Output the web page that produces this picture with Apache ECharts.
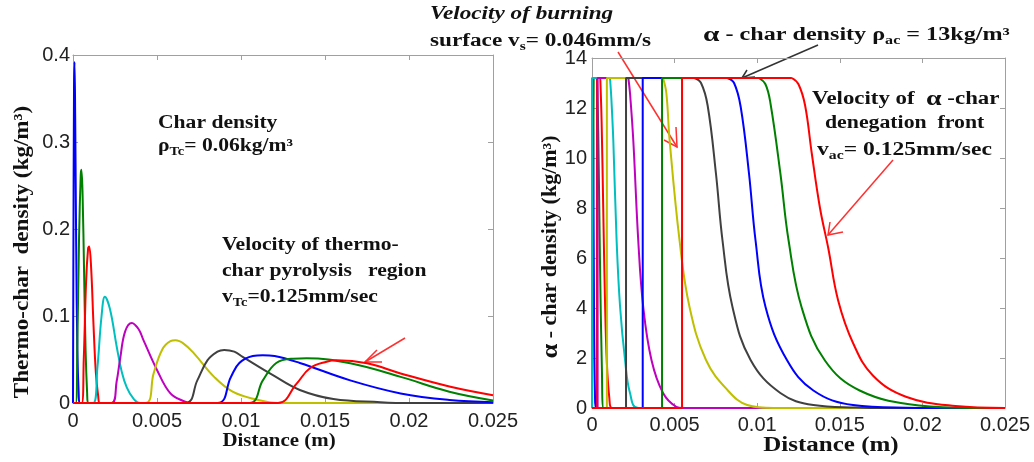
<!DOCTYPE html>
<html>
<head>
<meta charset="utf-8">
<script src="https://cdn.jsdelivr.net/npm/echarts@6/dist/echarts.min.js"></script>
<style>
  html, body { margin: 0; padding: 0; background: #ffffff; }
  #chart { width: 1034px; height: 462px; }
</style>
</head>
<body>
<div id="chart"></div>
<script>
// ---- Left panel: thermo-char density (kg/m3) against distance (m), one profile per time step ----
const thermo1 = [[0,0],[0.00002,0.15],[0.00006,0.36],[0.00009,0.392],[0.00013,0.33],[0.00019,0.18],[0.00026,0.06],[0.00034,0.01],[0.0004,0],[0.025,0]];
const thermo2 = [[0,0],[0.00016,0],[0.00026,0.07],[0.00036,0.19],[0.00046,0.262],[0.0005,0.268],[0.00057,0.24],[0.00066,0.15],[0.00075,0.06],[0.00084,0.012],[0.0009,0],[0.025,0]];
const thermo3 = [[0,0],[0.00052,0],[0.00064,0.05],[0.00078,0.14],[0.0009,0.178],[0.00096,0.18],[0.00108,0.155],[0.00122,0.09],[0.00136,0.035],[0.0015,0.008],[0.0016,0],[0.025,0]];
const thermo4 = [[0,0],[0.0012,0],[0.00145,0.04],[0.0017,0.1],[0.0019,0.122],[0.0022,0.108],[0.0026,0.065],[0.0029,0.036],[0.0032,0.018],[0.0036,0.005],[0.004,0],[0.025,0]];
const thermo5 = [[0,0],[0.0023,0],[0.0026,0.025],[0.0028,0.05],[0.0031,0.082],[0.0035,0.092],[0.0039,0.085],[0.0042,0.072],[0.005,0.038],[0.0058,0.011],[0.0066,0.002],[0.007,0],[0.025,0]];
const thermo6 = [[0,0],[0.0043,0],[0.0048,0.034],[0.0053,0.061],[0.0058,0.071],[0.0061,0.072],[0.0066,0.068],[0.0072,0.057],[0.0084,0.03],[0.0095,0.013],[0.0109,0.004],[0.0122,0],[0.025,0]];
const thermo7 = [[0,0],[0.0067,0],[0.0074,0.026],[0.008,0.049],[0.0086,0.059],[0.009,0.061],[0.0096,0.059],[0.0101,0.053],[0.0119,0.032],[0.0135,0.015],[0.0155,0.0046],[0.0183,0.001],[0.02,0],[0.025,0]];
const thermo8 = [[0,0],[0.0086,0],[0.0094,0.03],[0.0099,0.046],[0.0107,0.054],[0.0113,0.055],[0.012,0.054],[0.0135,0.046],[0.0165,0.026],[0.0195,0.011],[0.0224,0.0035],[0.025,0.001]];
const thermo9 = [[0,0],[0.0105,0],[0.0113,0.026],[0.0121,0.046],[0.0131,0.051],[0.0139,0.0515],[0.0165,0.0456],[0.0195,0.03],[0.0224,0.013],[0.025,0.003]];
const thermo10 = [[0,0],[0.0122,0],[0.0133,0.022],[0.0141,0.04],[0.0151,0.0475],[0.0157,0.049],[0.0175,0.0456],[0.0195,0.034],[0.0224,0.019],[0.025,0.009]];

// ---- Right panel: alpha-char density (kg/m3) ----
// burning-surface position for each time step (density is zero ahead of it)
const alphaSurface = [0, 0.0001, 0.0003, 0, 0.00034, 0.0009, 0.00206, 0.00307, 0.00424, 0.00545];
// plateau end and decay through the denegation front for each time step
const alpha1 = [[0.00004,13.2],[0.00008,10],[0.00012,4],[0.00018,0.5],[0.00024,0]];
const alpha2 = [[0.0003,13.2],[0.00038,11],[0.00048,6],[0.0006,1.5],[0.0007,0]];
const alpha3 = [[0.0005,13.2],[0.00058,11.5],[0.00068,8],[0.00078,4.5],[0.0009,1.8],[0.00105,0.4],[0.0012,0]];
const alpha4 = [[0.00109,13.2],[0.00117,12.4],[0.00129,10.7],[0.00149,6.7],[0.0017,4.05],[0.002,1.92],[0.0023,0.6],[0.0028,0]];
const alpha5 = [[0.0022,13.2],[0.0023,12.6],[0.0025,10.7],[0.0028,6.7],[0.0031,4.05],[0.0036,1.92],[0.0043,0.6],[0.0051,0.05],[0.0055,0]];
const alpha6 = [[0.0043,13.2],[0.0045,12.6],[0.0047,10.7],[0.0053,6.7],[0.0059,4.05],[0.0069,1.92],[0.0082,0.72],[0.0094,0.12],[0.011,0]];
const alpha7 = [[0.0062,13.2],[0.0066,13.0],[0.007,12.1],[0.0075,9.4],[0.0079,6.7],[0.0085,4.05],[0.0096,1.92],[0.0114,0.6],[0.0134,0.12],[0.016,0.02],[0.018,0]];
const alpha8 = [[0.0082,13.2],[0.0086,13.0],[0.009,12.05],[0.0095,9.4],[0.0099,6.7],[0.0105,4.05],[0.0118,1.92],[0.0134,0.7],[0.0158,0.12],[0.019,0.01],[0.021,0]];
const alpha9 = [[0.0101,13.2],[0.0105,12.95],[0.0108,12.2],[0.0114,9.4],[0.0119,6.7],[0.0127,4],[0.0141,1.9],[0.0162,0.7],[0.0198,0.1],[0.023,0]];
const alpha10 = [[0.0121,13.2],[0.0125,12.95],[0.0129,12.1],[0.0133,10.2],[0.0138,8],[0.0143,6.4],[0.0149,4.3],[0.0158,2.6],[0.017,1.3],[0.019,0.45],[0.022,0.08],[0.025,0]];

// MATLAB default line colour cycle: b, g, r, c, m, y, k
const curveColors = ['#0000ff', '#008000', '#ff0000', '#00bfbf', '#bf00bf', '#bfbf00', '#404040', '#0000ff', '#008000', '#ff0000'];

// Tick labels
const distanceTicks = ['0', '0.005', '0.01', '0.015', '0.02', '0.025'];
const thermoTicks = ['0', '0.1', '0.2', '0.3', '0.4'];
const alphaTicks = ['0', '2', '4', '6', '8', '10', '12', '14'];

const thermoCurves = [thermo1, thermo2, thermo3, thermo4, thermo5, thermo6, thermo7, thermo8, thermo9, thermo10];
const alphaCurves = [alpha1, alpha2, alpha3, alpha4, alpha5, alpha6, alpha7, alpha8, alpha9, alpha10];
const X_MAX = 0.025;

const FRAME = '#a0a0a0';
const LABEL_FONT = 'Liberation Sans, Arial, sans-serif';
const SERIF = 'Liberation Serif, Times New Roman, serif';

function pickTick(list, step) {
  return v => {
    const i = Math.round(v / step);
    return list[i] !== undefined ? list[i] : '';
  };
}

function xAxisPair(grid) {
  const base = {
    gridIndex: grid, type: 'value', min: 0, max: X_MAX, interval: 0.005,
    axisLine: { onZero: false, lineStyle: { color: FRAME, width: 1 } },
    axisTick: { inside: true, length: 5, lineStyle: { color: FRAME } },
    splitLine: { show: false }
  };
  return [
    Object.assign({}, base, {
      position: 'bottom',
      axisLabel: { fontSize: 20, color: '#222', fontFamily: LABEL_FONT, margin: grid === 0 ? 8 : 7,
        formatter: pickTick(distanceTicks, 0.005) }
    }),
    Object.assign({}, base, { position: 'top', axisLabel: { show: false } })
  ];
}

function yAxisPair(grid, max, step, ticks) {
  const base = {
    gridIndex: grid, type: 'value', min: 0, max: max, interval: step,
    axisLine: { onZero: false, lineStyle: { color: FRAME, width: 1 } },
    axisTick: { inside: true, length: 5, lineStyle: { color: FRAME } },
    splitLine: { show: false }
  };
  return [
    Object.assign({}, base, {
      position: 'left',
      axisLabel: { fontSize: 20, color: '#222', fontFamily: LABEL_FONT, margin: grid === 0 ? 3 : 5,
        formatter: pickTick(ticks, step) }
    }),
    Object.assign({}, base, { position: 'right', axisLabel: { show: false } })
  ];
}

const series = [];
thermoCurves.forEach((pts, i) => {
  series.push({
    type: 'line', xAxisIndex: 0, yAxisIndex: 0, data: pts,
    smooth: 0.4, symbol: 'none', silent: true,
    lineStyle: { color: curveColors[i], width: 2 }
  });
});
alphaCurves.forEach((pts, i) => {
  const s = alphaSurface[i];
  const start = pts[0];
  // zero ahead of the burning surface, the jump up, and the flat char plateau
  series.push({
    type: 'line', xAxisIndex: 2, yAxisIndex: 2,
    data: [[0, 0], [s, 0], [s, start[1]], start],
    symbol: 'none', silent: true, lineStyle: { color: curveColors[i], width: 2 }
  });
  // decay through the denegation front, then zero to the end of the domain
  series.push({
    type: 'line', xAxisIndex: 2, yAxisIndex: 2, data: pts.concat([[X_MAX, 0]]),
    smooth: 0.4, symbol: 'none', silent: true,
    lineStyle: { color: curveColors[i], width: 2 }
  });
});

function label(x, y, text, opts) {
  opts = opts || {};
  const size = opts.size || 18;
  return {
    type: 'text', x: x, y: y, scaleX: opts.scaleX || 1.2, rotation: opts.rotation || 0,
    style: {
      text: text, fill: '#111', fontFamily: SERIF, fontWeight: 'bold',
      fontStyle: opts.italic ? 'italic' : 'normal',
      fontSize: size, align: opts.align || 'left', verticalAlign: 'middle',
      rich: {
        s: { fontSize: 12, fontFamily: SERIF, fontWeight: 'bold', fill: '#111', verticalAlign: 'bottom', lineHeight: 12 },
        b: { fontSize: size, fontFamily: SERIF, fontWeight: 'bold', fill: '#111', lineHeight: 24 },
        a: { fontSize: size + 4, fontFamily: SERIF, fontWeight: 'bold', fill: '#111', lineHeight: 24 }
      }
    }
  };
}

function arrow(tail, head, wing1, wing2, color) {
  return [
    { type: 'polyline', shape: { points: [tail, head] }, style: { stroke: color, lineWidth: 1.5, fill: null } },
    { type: 'polyline', shape: { points: [wing1, head, wing2] }, style: { stroke: color, lineWidth: 1.5, fill: null } }
  ];
}

const graphic = [
  // left panel annotations
  label(158, 123, 'Char density'),
  label(158, 146, '{b|ρ}{s|Tc}{b|= 0.06kg/m³}'),
  label(222, 245, 'Velocity of thermo-'),
  label(222, 271, 'char pyrolysis   region'),
  label(222, 297, '{b|v}{s|Tc}{b|=0.125mm/sec}'),
  label(23, 252, 'Thermo-char  density (kg/m³)', { size: 21, align: 'center', rotation: Math.PI / 2, scaleX: 1.1 }),
  label(279, 441, 'Distance (m)', { size: 19, align: 'center', scaleX: 1.1 }),
  // right panel annotations
  label(430, 14, 'Velocity of burning', { italic: true, scaleX: 1.29 }),
  label(430, 41, '{b|surface v}{s|s}{b|= 0.046mm/s}', { scaleX: 1.29 }),
  label(703, 35, '{a|α}{b| - char density ρ}{s|ac}{b| = 13kg/m³}', { scaleX: 1.34 }),
  label(812, 99, '{b|Velocity of  }{a|α}{b| -char}', { scaleX: 1.27 }),
  label(825, 123, 'denegation  front', { scaleX: 1.21 }),
  label(817, 150, '{b|v}{s|ac}{b|= 0.125mm/sec}', { scaleX: 1.31 }),
  label(551, 247, '{a|α}{b| - char density (kg/m³)}', { size: 20, align: 'center', rotation: Math.PI / 2, scaleX: 1.1 }),
  label(831, 446, 'Distance (m)', { size: 20, align: 'center', scaleX: 1.25 })
].concat(
  arrow([405, 338], [365, 362], [377, 350], [382, 362], '#ff3030'),
  arrow([618, 52], [677, 147], [676, 127], [664, 140], '#ff3030'),
  arrow([818, 45], [742, 78], [747, 70], [755, 77], '#333333'),
  arrow([893, 160], [828, 235], [830, 222], [843, 232], '#ff3030')
);

const chart = echarts.init(document.getElementById('chart'), null, { renderer: 'canvas' });
chart.setOption({
  backgroundColor: '#ffffff',
  animation: false,
  grid: [
    { left: 73, top: 55, width: 420, height: 348, show: false },
    { left: 592, top: 58, width: 413, height: 350, show: false }
  ],
  xAxis: xAxisPair(0).concat(xAxisPair(1)),
  yAxis: yAxisPair(0, 0.4, 0.1, thermoTicks).concat(yAxisPair(1, 14, 2, alphaTicks)),
  series: series,
  graphic: graphic
});
</script>
</body>
</html>
